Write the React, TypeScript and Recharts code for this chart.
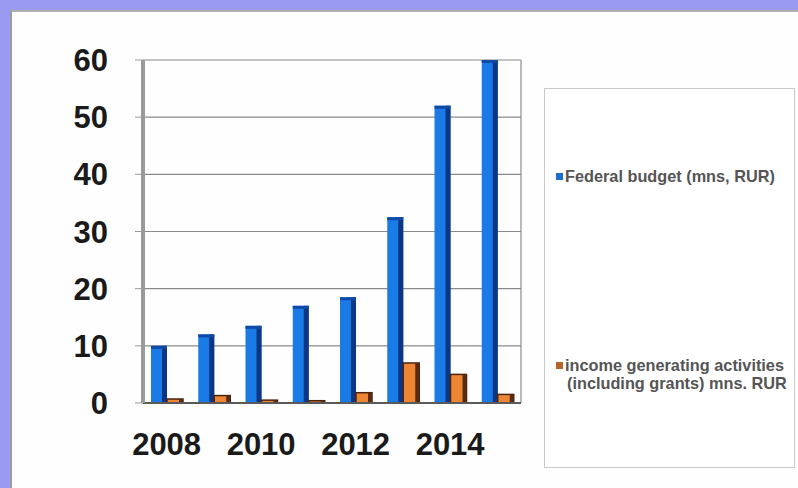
import React from 'react';
import { BarChart, Bar, XAxis, YAxis, CartesianGrid } from 'recharts';

const years = ['2008', '2009', '2010', '2011', '2012', '2013', '2014', '2015'];
const federalBudget = [10, 12, 13.5, 17, 18.5, 32.5, 52, 60];
const incomeActivities = [0.7, 1.3, 0.5, 0.4, 1.8, 7, 5, 1.5];
const yTicks = [0, 10, 20, 30, 40, 50, 60];

const seriesNames = {
    federal: 'Federal budget (mns, RUR)',
    incomeLine1: 'income generating activities',
    incomeLine2: '(including grants) mns. RUR',
};

const data = years.map((year, i) => ({
    year,
    federal: federalBudget[i],
    income: incomeActivities[i],
}));

const FONT = '"Liberation Sans", Arial, sans-serif';

const BlueBar: React.FC<any> = ({ x, y, width, height }) => {
    if (!height || height <= 0) return null;
    return (
        <g>
            <rect x={x} y={y} width={width} height={height} fill="#1b7be6" />
            <rect x={x + width - 5} y={y} width={5} height={height} fill="#0c3585" />
            <rect x={x} y={y} width={width} height={3} fill="#0e4aa6" />
        </g>
    );
};

const OrangeBar: React.FC<any> = ({ x, y, width, height }) => {
    if (!height || height <= 0) return null;
    return (
        <g>
            <rect x={x} y={y} width={width} height={height} fill="#ee8532" stroke="#4a2410" strokeWidth={1.5} />
            <rect x={x + width - 4} y={y} width={4} height={height} fill="#5a2a0e" />
        </g>
    );
};

const LegendBox: React.FC = () => (
    <div
        style={{
            position: 'absolute',
            left: 544,
            top: 88,
            width: 251,
            height: 380,
            border: '1px solid #c8c8c8',
            background: '#fff',
            fontFamily: FONT,
            fontWeight: 'bold',
            fontSize: 16.3,
            color: '#555',
            boxSizing: 'border-box',
        }}
    >
        <div style={{ position: 'absolute', left: 11, top: 78, display: 'flex', alignItems: 'center', whiteSpace: 'nowrap' }}>
            <span style={{ width: 7, height: 7, background: '#1b6fcf', marginRight: 2, display: 'inline-block' }} />
            <span>{seriesNames.federal}</span>
        </div>
        <div style={{ position: 'absolute', left: 11, top: 267, display: 'flex', alignItems: 'center', whiteSpace: 'nowrap' }}>
            <span style={{ width: 7, height: 7, background: '#b5652a', marginRight: 2, display: 'inline-block' }} />
            <span>{seriesNames.incomeLine1}</span>
        </div>
        <div style={{ position: 'absolute', left: 22, top: 285, whiteSpace: 'nowrap' }}>
            {seriesNames.incomeLine2}
        </div>
    </div>
);

const App: React.FC = () => {
    return (
        <div style={{ position: 'relative', width: 798, height: 488, background: '#9a9af2', overflow: 'hidden' }}>
            <style>{'body{margin:0}'}</style>
            <div
                style={{
                    position: 'absolute',
                    left: 10,
                    top: 10,
                    width: 788,
                    height: 478,
                    background: '#fefefe',
                    borderLeft: '2px solid #9a9a9a',
                    borderTop: '2px solid #b0b0b0',
                    boxSizing: 'border-box',
                }}
            />
            <div style={{ position: 'absolute', left: 0, top: 0 }}>
                <BarChart
                    width={798}
                    height={488}
                    data={data}
                    margin={{ top: 60, right: 277, left: 83, bottom: 25 }}
                    barGap={0}
                    barSize={16}
                >
                    <CartesianGrid
                        stroke="#8a8a8a"
                        strokeWidth={1.2}
                        verticalCoordinatesGenerator={({ offset }: any) => [offset.left + offset.width]}
                    />
                    <XAxis
                        dataKey="year"
                        interval={1}
                        tickLine={false}
                        tickSize={6}
                        tickMargin={24}
                        height={60}
                        axisLine={{ stroke: '#5a5a5a', strokeWidth: 2 }}
                        tick={{ fontSize: 31, fontWeight: 'bold', fill: '#1a1a1a', fontFamily: FONT }}
                    />
                    <YAxis
                        domain={[0, 60]}
                        ticks={yTicks}
                        width={60}
                        tickSize={8}
                        tickMargin={27}
                        tickLine={{ stroke: '#9a9a9a' }}
                        axisLine={{ stroke: '#9a9a9a', strokeWidth: 4 }}
                        tick={{ fontSize: 31, fontWeight: 'bold', fill: '#1a1a1a', fontFamily: FONT }}
                    />
                    <Bar dataKey="federal" name={seriesNames.federal} shape={<BlueBar />} isAnimationActive={false} />
                    <Bar dataKey="income" name={seriesNames.incomeLine1} shape={<OrangeBar />} isAnimationActive={false} />
                </BarChart>
            </div>
            <LegendBox />
        </div>
    );
};

export default App;
